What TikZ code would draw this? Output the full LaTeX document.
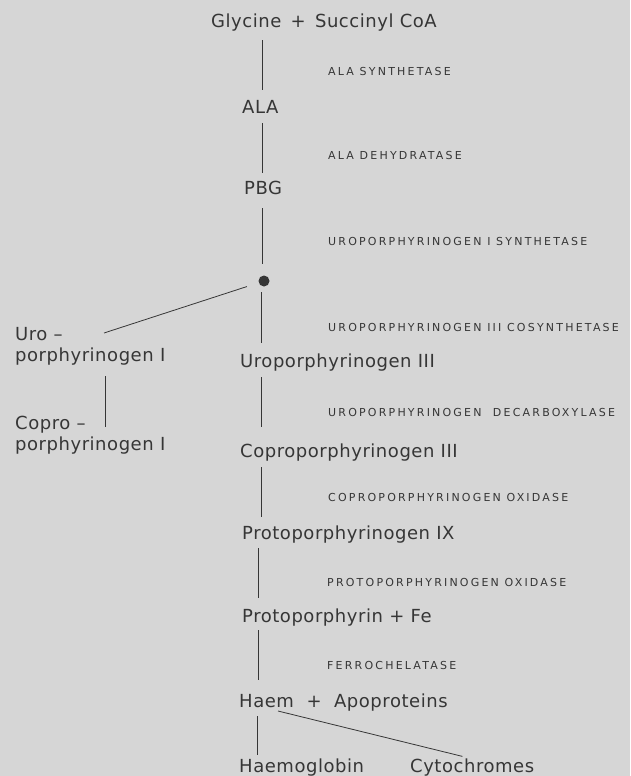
\documentclass[tikz,border=0pt]{standalone}
\usepackage{fontspec}
\newfontfamily\mainf[LetterSpace=3]{DejaVu Sans}
\newfontfamily\enzf[LetterSpace=20]{DejaVu Sans}
\definecolor{bg}{HTML}{D6D6D6}
\definecolor{ink}{HTML}{363636}
\begin{document}
\begin{tikzpicture}[x=1pt,y=-1pt,
  main/.style={anchor=base west,inner sep=0pt,text height=14pt,text depth=4pt,text=ink,font=\mainf\fontsize{18}{21}\selectfont},
  side/.style={anchor=base west,inner sep=0pt,text=ink,align=left,font=\mainf\fontsize{18}{21}\selectfont},
  enz/.style={anchor=base west,inner sep=0pt,text=ink,font=\enzf\fontsize{11}{13}\selectfont},
  conn/.style={draw=ink,line width=0.8pt}]
\fill[bg] (0,0) rectangle (630,776);
\useasboundingbox (0,0) rectangle (630,776);
% trunk x positions
\coordinate (xa) at (262,0);
\coordinate (xb) at (261,0);
\coordinate (xc) at (258,0);
\coordinate (xd) at (257,0);
\coordinate (xl) at (105,0);
% main compounds
\node[main] (gly) at (211,28) {Glycine \,+\, Succinyl CoA};
\node[main] (ala) at (242,113) {ALA};
\node[main] (pbg) at (244,194) {PBG};
\node[circle,fill=ink,inner sep=0pt,minimum size=11pt] (dot) at (264,281) {};
\node[main] (uro3) at (240,367) {Uroporphyrinogen III};
\node[main] (copro3) at (240,457) {Coproporphyrinogen III};
\node[main] (proto9) at (242,539) {Protoporphyrinogen IX};
\node[main] (protoFe) at (242,622) {Protoporphyrin + Fe};
\node[main] (haem) at (239,707) {Haem \ + \ Apoproteins};
\node[main] (haemo) at (239,772) {Haemoglobin};
\node[main] (cyto) at (410,772) {Cytochromes};
\node[side,anchor=north west] (uro1) at (15,327) {Uro –\\porphyrinogen I};
\node[side,anchor=north west] (copro1) at (15,416) {Copro –\\porphyrinogen I};
% enzymes
\node[enz] (e1) at (328,75) {ALA SYNTHETASE};
\node[enz] (e2) at (328,159) {ALA DEHYDRATASE};
\node[enz] (e3) at (328,245) {UROPORPHYRINOGEN I SYNTHETASE};
\node[enz] (e4) at (328,331) {UROPORPHYRINOGEN III COSYNTHETASE};
\node[enz] (e5) at (328,416) {UROPORPHYRINOGEN \ DECARBOXYLASE};
\node[enz] (e6) at (328,501) {COPROPORPHYRINOGEN OXIDASE};
\node[enz] (e7) at (327,586) {PROTOPORPHYRINOGEN OXIDASE};
\node[enz] (e8) at (327,669) {FERROCHELATASE};
% free ends
\coordinate (u1end) at (104,333);
\coordinate (hstart) at (278,711);
% connectors
\draw[conn,shorten <=8pt,shorten >=9pt] (gly.south -| xa) -- (ala.north -| xa);
\draw[conn,shorten <=6pt,shorten >=7pt] (ala.south -| xa) -- (pbg.north -| xa);
\draw[conn,shorten <=10pt,shorten >=17pt] (pbg.south -| xa) -- (dot.center -| xa);
\draw[conn,shorten <=11pt,shorten >=10pt] (dot.center -| xb) -- (uro3.north -| xb);
\draw[conn,shorten <=18pt] (dot.center) -- (u1end);
\draw[conn,shorten <=6pt,shorten >=16pt] (uro3.south -| xb) -- (copro3.north -| xb);
\draw[conn,shorten <=6pt,shorten >=8pt] (copro3.south -| xb) -- (proto9.north -| xb);
\draw[conn,shorten <=5pt,shorten >=10pt] (proto9.south -| xc) -- (protoFe.north -| xc);
\draw[conn,shorten <=4pt,shorten >=13pt] (protoFe.south -| xc) -- (haem.north -| xc);
\draw[conn,shorten <=5pt,shorten >=3pt] (haem.south -| xd) -- (haemo.north -| xd);
\draw[conn,shorten <=11pt,shorten >=-11pt] (uro1.south -| xl) -- (copro1.north -| xl);
\draw[conn,shorten >=6pt] (hstart) -- ([xshift=-4pt]cyto.north);
\end{tikzpicture}
\end{document}
